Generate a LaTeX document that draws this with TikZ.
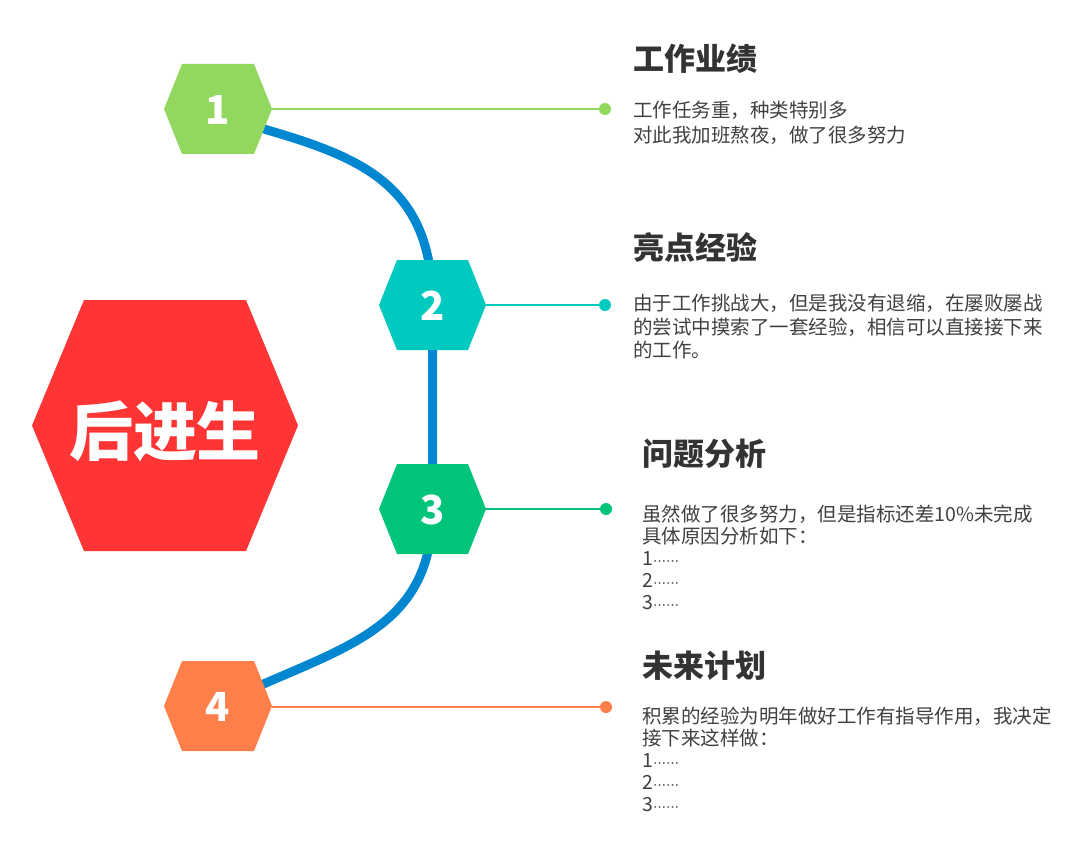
\documentclass[tikz,border=0pt]{standalone}
\usepackage{fontspec}
\setmainfont{Noto Sans CJK SC}
\newfontfamily\djv{DejaVu Sans}
\definecolor{cgreen}{HTML}{92D85F}
\definecolor{cteal}{HTML}{00C9BF}
\definecolor{cemer}{HTML}{00C47A}
\definecolor{corange}{HTML}{FF7F4B}
\definecolor{cred}{HTML}{FF3434}
\definecolor{cblue}{HTML}{0087CF}
\definecolor{ctitle}{HTML}{333333}
\definecolor{cbody}{HTML}{404040}
\newcommand\hexfill[6]{\fill[#6] (#1-#3,#2) -- (#1-#3+#5,#2-#4) -- (#1+#3-#5,#2-#4) -- (#1+#3,#2) -- (#1+#3-#5,#2+#4) -- (#1-#3+#5,#2+#4) -- cycle;}
\newcommand\sixdots{{\djv\fontsize{13}{13}\selectfont ⋯⋯}}
\tikzset{
  numtext/.style={text=white, inner sep=0pt, font=\fontsize{40}{40}\selectfont\bfseries},
  title/.style={text=ctitle, inner sep=0pt, anchor=north west, font=\fontsize{31}{31}\selectfont\bfseries},
  body/.style={text=cbody, inner sep=0pt, anchor=north west, align=left},
  dot/.style={circle, inner sep=0pt, minimum size=12pt},
  link/.style={line width=2pt},
  spine/.style={cblue, line width=9pt}
}
\begin{document}
\begin{tikzpicture}[x=1pt,y=-1pt]
\useasboundingbox (0,0) rectangle (1080,848);
% spine coordinates
\coordinate (s1) at (250,125);
\coordinate (s4) at (250,690);
\coordinate (h2c) at (432.5,305);
\coordinate (h3c) at (432.5,509);
\draw[spine] (s1) .. controls (355,155) and (432.5,180) .. (h2c) -- (h3c) .. controls (432.5,625) and (350,645) .. (s4);
% hexagons
\hexfill{218}{109}{54}{45}{18}{cgreen}
\hexfill{432.5}{305}{53.5}{45}{18}{cteal}
\hexfill{432.5}{509}{53.5}{45}{18}{cemer}
\hexfill{218}{706}{54}{45}{18}{corange}
\hexfill{165}{425.5}{133}{125.5}{52}{cred}
\node[numtext] (h1) at (218,109.5) {1};
\node[numtext] (h2) at (432.5,305.5) {2};
\node[numtext] (h3) at (432.5,509.5) {3};
\node[numtext] (h4) at (218,706.5) {4};
\node[text=white, inner sep=0pt, font=\fontsize{64}{64}\selectfont\bfseries] (main) at (165,431) {后进生};
% connectors
\coordinate (h1r) at (272,109);
\coordinate (h2r) at (486,305);
\coordinate (h3r) at (486,509);
\coordinate (h4r) at (272,707);
\node[dot, fill=cgreen] (d1) at (605,109) {};
\node[dot, fill=cteal] (d2) at (605,305) {};
\node[dot, fill=cemer] (d3) at (606,509) {};
\node[dot, fill=corange] (d4) at (606,707) {};
\draw[link, cgreen] (h1r) -- (d1);
\draw[link, cteal] (h2r) -- (d2);
\draw[link, cemer] (h3r) -- (d3);
\draw[link, corange] (h4r) -- (d4);
% texts
\node[title] (t1) at (633,44) {工作业绩};
\node[title] (t2) at (633,232) {亮点经验};
\node[title] (t3) at (642,439) {问题分析};
\node[title] (t4) at (642,651) {未来计划};
\node[body, font=\fontsize{19.5}{25}\selectfont] (b1) at (633,101) {工作任务重，种类特别多\\对此我加班熬夜，做了很多努力};
\node[body, font=\fontsize{19.5}{23.5}\selectfont] (b2) at (633,294) {由于工作挑战大，但是我没有退缩，在屡败屡战\\的尝试中摸索了一套经验，相信可以直接接下来\\的工作。};
\node[body, font=\fontsize{19.5}{22}\selectfont] (b3) at (642,505) {虽然做了很多努力，但是指标还差10\%未完成\\具体原因分析如下：\\1\sixdots\\2\sixdots\\3\sixdots};
\node[body, font=\fontsize{19.5}{22}\selectfont] (b4) at (642,707) {积累的经验为明年做好工作有指导作用，我决定\\接下来这样做：\\1\sixdots\\2\sixdots\\3\sixdots};
\end{tikzpicture}
\end{document}
